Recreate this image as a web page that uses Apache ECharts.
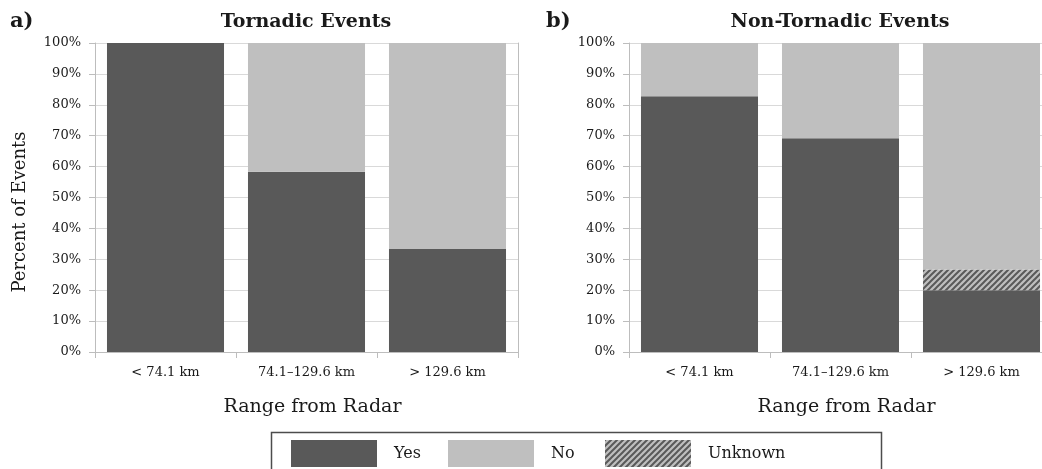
<!DOCTYPE html>
<html>
<head>
<meta charset="utf-8">
<script src="https://cdn.jsdelivr.net/npm/echarts@6/dist/echarts.min.js"></script>
<style>
  html, body { margin: 0; padding: 0; background: #fff; }
  #chart { width: 1042px; height: 469px; }
</style>
</head>
<body>
<div id="chart"></div>
<script>
// Radar range bins shared by both panels
const categories = ['< 74.1 km', '74.1\u2013129.6 km', '> 129.6 km'];
const yTicks = [0, 10, 20, 30, 40, 50, 60, 70, 80, 90, 100];

// Panel a) tornadic events, percent of events
const tornadicYes = [100, 58.3, 33.3];
const tornadicUnknown = [0, 0, 0];
const tornadicNo = [0, 41.7, 66.7];

// Panel b) non-tornadic events, percent of events
const nonTornadicYes = [82.8, 69.2, 20.0];
const nonTornadicUnknown = [0, 0, 6.7];
const nonTornadicNo = [17.2, 30.8, 73.3];

const FONT = 'DejaVu Serif';
const INK = '#1a1a1a';
const DARK = '#595959';
const LIGHT = '#bfbfbf';
const AXIS = '#bdbdbd';
const GRIDLINE = '#d9d9d9';

// Diagonal hatch used for the "Unknown" class
function hatchPattern() {
  const s = 6;
  const c = document.createElement('canvas');
  c.width = s; c.height = s;
  const g = c.getContext('2d');
  g.fillStyle = LIGHT;
  g.fillRect(0, 0, s, s);
  g.strokeStyle = DARK;
  g.lineWidth = 2.0;
  g.beginPath();
  g.moveTo(0, s); g.lineTo(s, 0);
  g.moveTo(-s / 2, s / 2); g.lineTo(s / 2, -s / 2);
  g.moveTo(s / 2, s * 1.5); g.lineTo(s * 1.5, s / 2);
  g.stroke();
  return { image: c, repeat: 'repeat' };
}
const HATCH = hatchPattern();

const grids = [
  { left: 95, top: 43, width: 423, height: 309, outerBoundsMode: 'none' },
  { left: 629, top: 43, width: 423, height: 309, outerBoundsMode: 'none' }
];

function xAxisFor(i) {
  return {
    type: 'category', gridIndex: i, data: categories,
    axisLine: { lineStyle: { color: AXIS, width: 1 } },
    axisTick: { show: true, length: 6, lineStyle: { color: AXIS } },
    axisLabel: { fontFamily: FONT, fontSize: 13, color: INK, margin: 14 },
    name: 'Range from Radar', nameLocation: 'middle', nameGap: 46,
    nameTextStyle: { fontFamily: FONT, fontSize: 19, color: INK, padding: [0, 0, 0, 12] }
  };
}
function yAxisFor(i) {
  return {
    type: 'value', gridIndex: i, min: 0, max: 100, interval: 10,
    axisLine: { show: true, lineStyle: { color: AXIS, width: 1 } },
    axisTick: { show: true, length: 6, lineStyle: { color: AXIS } },
    splitLine: { lineStyle: { color: GRIDLINE, width: 1 } },
    axisLabel: { fontFamily: FONT, fontSize: 13, color: INK, margin: 14,
      formatter: v => (yTicks.includes(v) ? v + '%' : '') }
  };
}
function rightBorderFor(i) {
  return {
    type: 'value', gridIndex: i, position: 'right', min: 0, max: 100,
    axisLine: { show: true, lineStyle: { color: AXIS, width: 1 } },
    axisTick: { show: false }, axisLabel: { show: false }, splitLine: { show: false }
  };
}

function bars(name, data, i, color) {
  return {
    name, type: 'bar', stack: 'panel' + i, data,
    xAxisIndex: i, yAxisIndex: i * 2,
    barCategoryGap: '17%',
    itemStyle: { color },
    emphasis: { disabled: true },
    animation: false
  };
}

function legendItem(name, left) {
  return {
    data: [name], left, top: 440, padding: 0,
    icon: 'rect', itemWidth: 86, itemHeight: 27, itemGap: 0,
    selectedMode: false,
    textStyle: { fontFamily: FONT, fontSize: 16, color: INK, padding: [0, 0, 0, 12] }
  };
}

const option = {
  backgroundColor: '#fff',
  animation: false,
  grid: grids,
  xAxis: [xAxisFor(0), xAxisFor(1)],
  yAxis: [yAxisFor(0), rightBorderFor(0), yAxisFor(1), rightBorderFor(1)],
  legend: [legendItem('Yes', 291), legendItem('No', 448), legendItem('Unknown', 605)],
  series: [
    bars('Yes', tornadicYes, 0, DARK),
    bars('Unknown', tornadicUnknown, 0, HATCH),
    bars('No', tornadicNo, 0, LIGHT),
    bars('Yes', nonTornadicYes, 1, DARK),
    bars('Unknown', nonTornadicUnknown, 1, HATCH),
    bars('No', nonTornadicNo, 1, LIGHT)
  ],
  graphic: [
    { type: 'text', left: 10, top: 11,
      style: { text: 'a)', font: 'bold 21px "DejaVu Serif"', fill: INK } },
    { type: 'text', x: 306, y: 22,
      style: { text: 'Tornadic Events', font: 'bold 19px "DejaVu Serif"', fill: INK,
        align: 'center', verticalAlign: 'middle' } },
    { type: 'text', left: 546, top: 11,
      style: { text: 'b)', font: 'bold 21px "DejaVu Serif"', fill: INK } },
    { type: 'text', x: 840, y: 22,
      style: { text: 'Non-Tornadic Events', font: 'bold 19px "DejaVu Serif"', fill: INK,
        align: 'center', verticalAlign: 'middle' } },
    { type: 'text', x: 20, y: 212, rotation: Math.PI / 2,
      style: { text: 'Percent of Events', font: '18px "DejaVu Serif"', fill: INK,
        align: 'center', verticalAlign: 'middle' } },
    { type: 'rect', shape: { x: 271.5, y: 432.5, width: 610, height: 60 },
      style: { fill: 'none', stroke: '#4d4d4d', lineWidth: 1.5 }, z: -1 }
  ]
};

const chart = echarts.init(document.getElementById('chart'), null, { renderer: 'canvas' });
chart.setOption(option);
</script>
</body>
</html>
